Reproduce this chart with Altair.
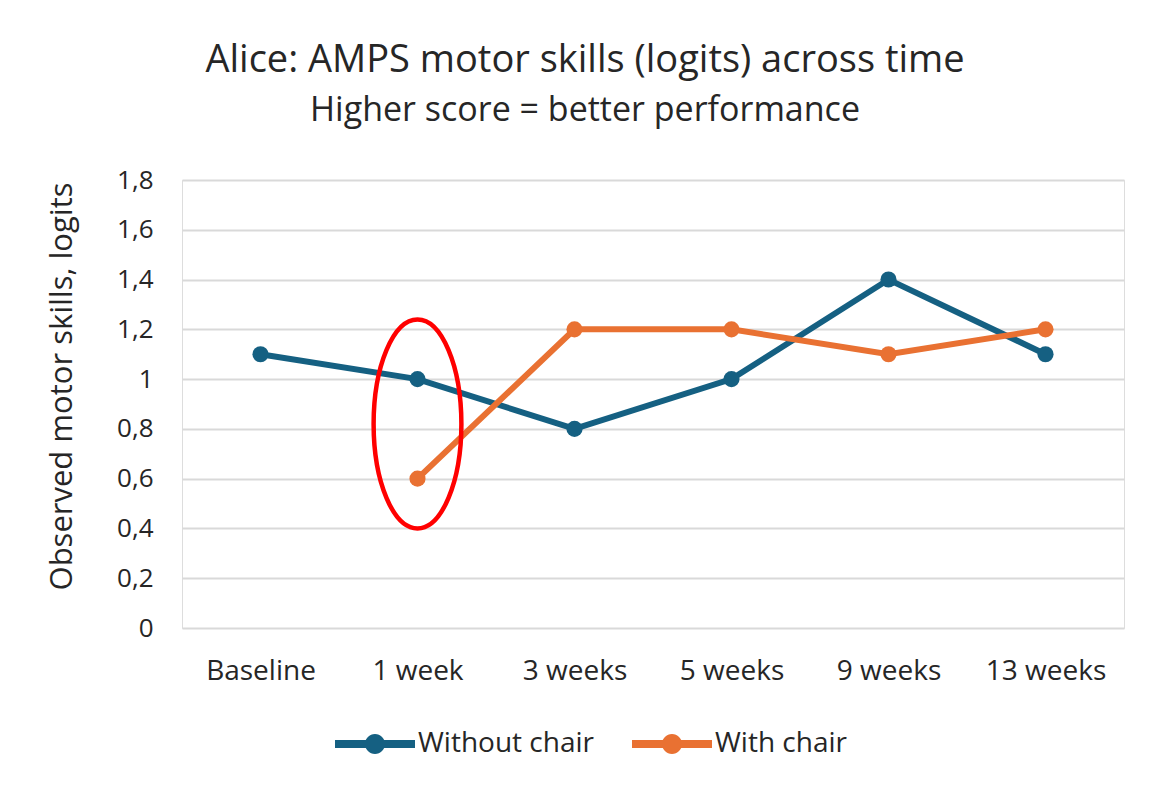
import altair as alt
import pandas as pd

categories = ["Baseline", "1 week", "3 weeks", "5 weeks", "9 weeks", "13 weeks"]
without_chair = [1.1, 1.0, 0.8, 1.0, 1.4, 1.1]
with_chair = [None, 0.6, 1.2, 1.2, 1.1, 1.2]
series_names = ["Without chair", "With chair"]
series_colors = ["#156082", "#E97132"]
y_ticks = [0, 0.2, 0.4, 0.6, 0.8, 1.0, 1.2, 1.4, 1.6, 1.8]

# annotation ellipse (centre of the highlighted region)
ann_x = ["1 week"]
ann_y = [0.82]

rows = []
for name, vals in zip(series_names, [without_chair, with_chair]):
    for c, v in zip(categories, vals):
        if v is not None:
            rows.append({"time": c, "value": v, "series": name})
df = pd.DataFrame(rows)
ann = pd.DataFrame({"time": ann_x, "value": ann_y})

FONT = "Open Sans"
TXT = "#262626"

x_enc = alt.X("time:N", sort=categories, scale=alt.Scale(domain=categories, paddingOuter=0.5),
              axis=alt.Axis(title=None, labelFontSize=28, labelPadding=29, labelColor=TXT,
                            labelAngle=0, ticks=False, domain=False, grid=False, labelFont=FONT))
y_enc = alt.Y("value:Q", scale=alt.Scale(domain=[0, 1.8], nice=False),
              axis=alt.Axis(title="Observed motor skills, logits", values=y_ticks,
                            labelExpr="replace(format(datum.value, '.2~f'), '.', ',')",
                            labelFontSize=26, labelPadding=29, labelColor=TXT, labelFont=FONT,
                            ticks=False, domain=False, grid=True, gridColor="#d9d9d9", gridWidth=2,
                            titleFontSize=31, titleFont=FONT, titleFontWeight="normal", titleColor=TXT,
                            titleAngle=-90, titleX=-120, titleY=206, titleAlign="center",
                            titleBaseline="middle"))

color_scale = alt.Scale(domain=series_names, range=series_colors)

SYMBOL = ("M-1,-0.1L1,-0.1L1,0.1L-1,0.1Z "
          "M0.25,0 A0.25,0.25 0 1,1 -0.25,0 A0.25,0.25 0 1,1 0.25,0 Z")


def make_legend():
    return alt.Legend(title=None, orient="none", legendX=153, legendY=524,
                      direction="horizontal", labelFontSize=28, labelFont=FONT,
                      labelColor=TXT, labelOffset=3, columnPadding=38, labelLimit=1000,
                      symbolType=SYMBOL, symbolSize=6400, symbolStrokeWidth=0)


lines = alt.Chart(df).mark_line(strokeWidth=6).encode(
    x=x_enc, y=y_enc,
    stroke=alt.Stroke("series:N", scale=color_scale, legend=make_legend(), sort=series_names),
    detail="series:N",
)

points = alt.Chart(df).mark_point(filled=True, size=260, opacity=1).encode(
    x=x_enc, y=y_enc,
    fill=alt.Fill("series:N", scale=color_scale, sort=series_names, legend=make_legend()),
)

ellipse = alt.Chart(ann).mark_point(
    shape="M0.42,0 A0.42,1 0 1,1 -0.42,0 A0.42,1 0 1,1 0.42,0 Z",
    size=43681, filled=False, stroke="#FF0000", strokeWidth=4.5, opacity=1,
).encode(x=alt.X("time:N", sort=categories), y=alt.Y("value:Q"))

chart = alt.layer(lines, points, ellipse).properties(
    width=942, height=448,
    autosize=alt.AutoSizeParams(type="none"),
    padding={"left": 174, "top": 172, "right": 20, "bottom": 140},
    title=alt.TitleParams(
        text="Alice: AMPS motor skills (logits) across time",
        subtitle="Higher score = better performance",
        fontSize=38, subtitleFontSize=34, font=FONT, subtitleFont=FONT,
        fontWeight="normal", color=TXT, subtitleColor=TXT,
        anchor="middle", dx=-68, offset=39, subtitlePadding=14,
    ),
).configure_view(stroke=None).configure(background="white")

chart.save("out.html", embed_options={"renderer": "svg", "actions": False})
